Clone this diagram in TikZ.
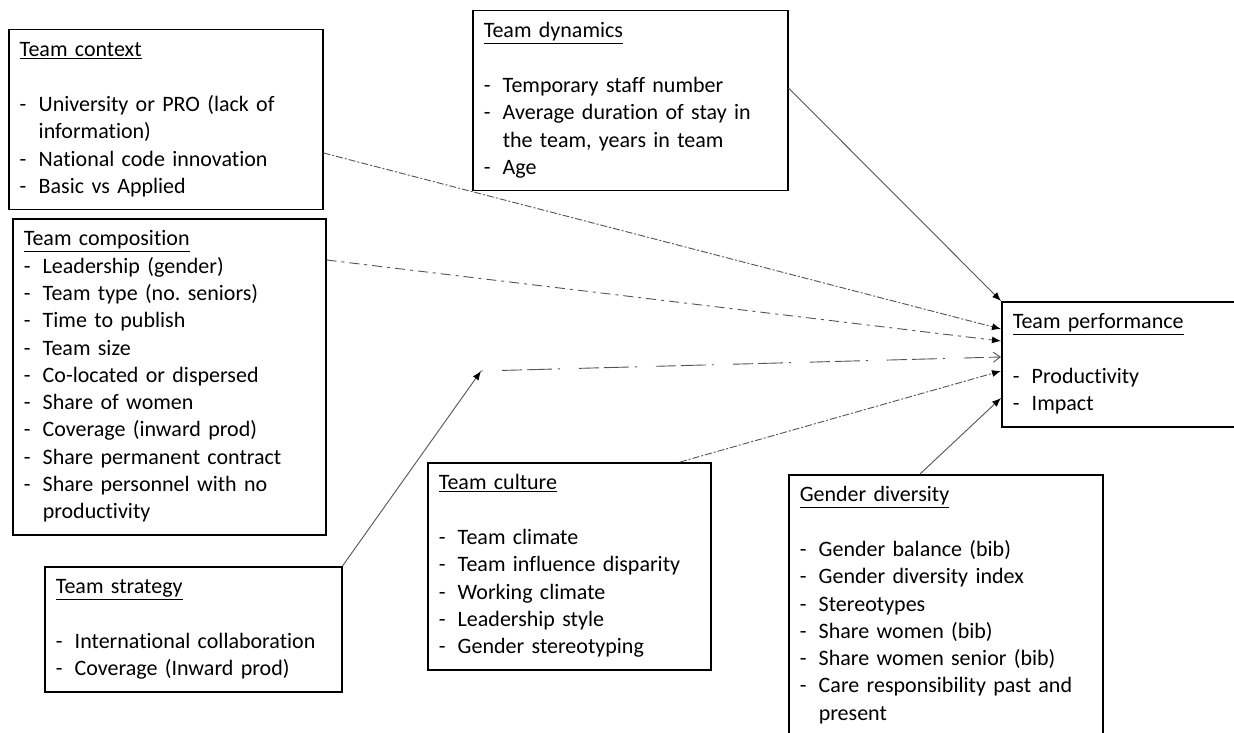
\documentclass[tikz,border=0pt]{standalone}
\usepackage{fontspec}
\setmainfont{Carlito}[Ligatures=NoCommon]
\usepackage{tikz}
\usetikzlibrary{arrows.meta,positioning,calc}
\definecolor{linegray}{rgb}{0.33,0.33,0.33}
\newcommand{\bul}{\makebox[19pt][l]{-}}
\newcommand{\ind}{\hspace*{19pt}}
\frenchspacing

\begin{document}
\begin{tikzpicture}[
  x=1pt, y=-1pt,
  box/.style={rectangle, draw=black, line width=1.5pt, fill=white, anchor=north west,
              align=left, font=\fontsize{22}{27.3}\selectfont, inner xsep=11pt, inner ysep=8pt,
              execute at begin node=\strut, execute at end node=\strut},
  arr/.style={-{Latex[length=9pt,width=7pt,color=black]}, line width=0.9pt, draw=linegray},
  fine/.style={dash pattern=on 7pt off 2pt on 2pt off 2pt},
  dashdot/.style={dash pattern=on 10pt off 5pt on 3pt off 5pt},
  longdash/.style={dash pattern=on 2pt off 19pt on 20pt off 5pt on 25pt off 6pt},
]
\useasboundingbox[fill=white] (0,0) rectangle (1234,733);

\node[box, text width=292pt] (context) at (8,29) {\underline{Team context}\\[27.3pt]
  \bul University or PRO (lack of\\ \ind information)\\
  \bul National code innovation\\ \bul Basic vs Applied};
\node[box, text width=291pt] (composition) at (12,218) {\underline{Team composition}\\
  \bul Leadership (gender)\\ \bul Team type (no. seniors)\\ \bul Time to publish\\
  \bul Team size\\ \bul Co-located or dispersed\\ \bul Share of women\\
  \bul Coverage (inward prod)\\ \bul Share permanent contract\\
  \bul Share personnel with no\\ \ind productivity};
\node[box, text width=293pt] (dynamics) at (472,10) {\underline{Team dynamics}\\[27.3pt]
  \bul Temporary staff number\\ \bul Average duration of stay in\\
  \ind the team, years in team\\ \bul Age};
\node[box, text width=260pt] (perf) at (1001,301) {\underline{Team performance}\\[27.3pt]
  \bul Productivity\\ \bul Impact};
\node[box, text width=261pt] (culture) at (427,462) {\underline{Team culture}\\[27.3pt]
  \bul Team climate\\ \bul Team influence disparity\\ \bul Working climate\\
  \bul Leadership style\\ \bul Gender stereotyping};
\node[box, text width=275pt] (strategy) at (44,566) {\underline{Team strategy}\\[27.3pt]
  \bul International collaboration\\ \bul Coverage (Inward prod)};
\node[box, text width=292pt] (gender) at (788,474) {\underline{Gender diversity}\\[27.3pt]
  \bul Gender balance (bib)\\ \bul Gender diversity index\\ \bul Stereotypes\\
  \bul Share women (bib)\\ \bul Share women senior (bib)\\
  \bul Care responsibility past and\\ \ind present};

\coordinate (mid) at (481,371);

\draw[arr] ([yshift=-78pt]dynamics.north east) -- (perf.north west);
\draw[arr, fine] ([yshift=-124pt]context.north east) -- ([yshift=-28pt]perf.north west);
\draw[arr, dashdot] ([yshift=-42pt]composition.north east) -- ([yshift=-40pt]perf.north west);
\draw[arr] (strategy.north east) -- (mid);
\draw[arr, longdash, -{Straight Barb[length=7pt,width=10pt]}] (mid) -- ([yshift=-56pt]perf.north west);
\draw[arr, fine] ([xshift=253pt]culture.north west) -- ([yshift=-70pt]perf.north west);
\draw[arr] ([xshift=132pt]gender.north west) -- ([yshift=-97pt]perf.north west);
\end{tikzpicture}
\end{document}
